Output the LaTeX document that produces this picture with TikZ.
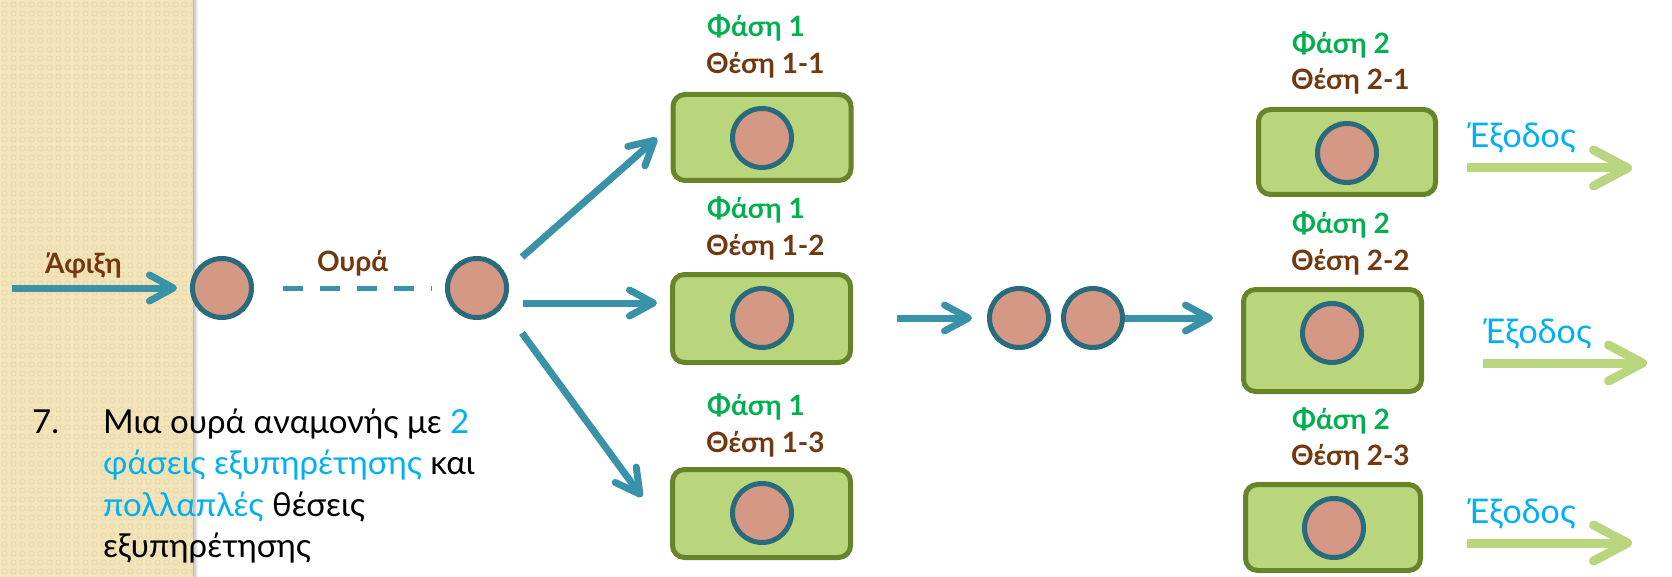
\documentclass[tikz,border=0pt]{standalone}
\usepackage{fontspec}
\setmainfont{Lato}
\usetikzlibrary{arrows.meta}

\definecolor{qarrow}{HTML}{3A92A8}
\definecolor{qring}{HTML}{286B7D}
\definecolor{qdot}{HTML}{D49885}
\definecolor{qboxfill}{HTML}{B9D67D}
\definecolor{qboxline}{HTML}{67842A}
\definecolor{qgreen}{HTML}{00B050}
\definecolor{qbrown}{HTML}{72380F}
\definecolor{qcyan}{HTML}{00B0F0}
\definecolor{qexit}{HTML}{B9D67E}
\definecolor{qbeige}{HTML}{F3E3B8}
\definecolor{qbeigedot}{HTML}{E9D8AA}

\tikzset{
  customer/.style={circle, draw=qring, fill=qdot, line width=5pt,
    minimum size=59pt, inner sep=0pt},
  server/.style={draw=qboxline, fill=qboxfill, line width=5pt,
    rounded corners=12pt, inner sep=0pt},
  flow/.style={draw=qarrow, line width=7pt,
    -{Straight Barb[round, length=24pt, width=26pt]}},
  queueline/.style={draw=qarrow, line width=5pt, dash pattern=on 20pt off 17pt},
  exitflow/.style={draw=qexit, line width=9pt,
    -{Straight Barb[round, length=34pt, width=36pt]}},
  phase/.style={anchor=base west, inner sep=0pt, text=qgreen,
    font=\fontsize{28}{28}\selectfont\bfseries},
  slot/.style={anchor=base west, inner sep=0pt, text=qbrown,
    font=\fontsize{28}{28}\selectfont\bfseries},
  exitlabel/.style={anchor=base west, inner sep=0pt, text=qcyan,
    font=\fontsize{34}{34}\selectfont},
  flowlabel/.style={anchor=base west, inner sep=0pt, text=qbrown,
    font=\fontsize{28}{28}\selectfont\bfseries},
  body/.style={anchor=base west, inner sep=0pt, text=black,
    font=\fontsize{33}{33}\selectfont},
}

\begin{document}
\begin{tikzpicture}[x=1pt, y=-1pt]
\useasboundingbox (0,0) rectangle (1672,577);
\fill[white] (0,0) rectangle (1672,577);

% textured side band
\fill[qbeige] (0,0) rectangle (194,577);
\foreach \i in {0,...,21}
  \foreach \j in {0,...,64}
    \draw[qbeigedot, line width=0.7pt] (4.5+9*\i, 4.5+9*\j) circle (2.6pt);
\shade[left color=black!25, right color=white] (193,0) rectangle (198,577);

% waiting line
\node[customer] (c1) at (222,288) {};
\node[customer] (c2) at (477,288) {};
\coordinate (src) at (12,288);
\draw[flow] (src) -- ([xshift=-13pt]c1.west);
\draw[queueline] ([xshift=29pt]c1.east) -- ([xshift=-13pt]c2.west);
\node[flowlabel] (lin) at (45,273) {Άφιξη};
\node[flowlabel] (lq) at (317,271) {Ουρά};

% phase 1 servers
\node[server, minimum width=178pt, minimum height=86pt] (b11) at (762,137.5) {};
\node[server, minimum width=178pt, minimum height=88pt] (b12) at (761.5,318.5) {};
\node[server, minimum width=178pt, minimum height=88pt] (b13) at (761.5,513.5) {};
\node[customer] (s11) at (762,138) {};
\node[customer] (s12) at (762,318) {};
\node[customer] (s13) at (762,513) {};

\node[phase] (p11) at (707,37) {Φάση 1};
\node[slot]  (t11) at (706,74) {Θέση 1-1};
\node[phase] (p12) at (707,219) {Φάση 1};
\node[slot]  (t12) at (706,255) {Θέση 1-2};
\node[phase] (p13) at (707,415) {Φάση 1};
\node[slot]  (t13) at (706,452) {Θέση 1-3};

\draw[flow] ([shift={(45,-31)}]c2.center) -- ([shift={(-105,0.5)}]b11.center);
\draw[flow] ([shift={(46,15)}]c2.center) -- ([shift={(-104.5,-15.5)}]b12.center);
\draw[flow] ([shift={(45,45)}]c2.center) -- ([shift={(-119.5,-16.5)}]b13.center);

% between the phases
\node[customer] (d1) at (1019,318) {};
\node[customer] (d2) at (1093,318) {};
\draw[flow] ([shift={(44,-0.5)}]b12.east) -- ([xshift=-15pt]d1.west);
\coordinate (d2out) at (1213,318);
\draw[flow] (d2.east) -- (d2out);

% phase 2 servers
\node[server, minimum width=177pt, minimum height=85pt] (b21) at (1347,152) {};
\node[server, minimum width=178pt, minimum height=102pt] (b22) at (1332.5,340.5) {};
\node[server, minimum width=175pt, minimum height=86pt] (b23) at (1333,527.5) {};
\node[customer] (s21) at (1347,153) {};
\node[customer] (s22) at (1332,333) {};
\node[customer] (s23) at (1334,528) {};

\node[phase] (p21) at (1292,54) {Φάση 2};
\node[slot]  (t21) at (1291,90) {Θέση 2-1};
\node[phase] (p22) at (1292,234) {Φάση 2};
\node[slot]  (t22) at (1291,270) {Θέση 2-2};
\node[phase] (p23) at (1292,429) {Φάση 2};
\node[slot]  (t23) at (1291,465) {Θέση 2-3};

% departures
\coordinate (o1) at (1632,168);
\coordinate (o2) at (1647,363);
\coordinate (o3) at (1632,543);
\draw[exitflow] ([shift={(29,16)}]b21.east) -- (o1);
\draw[exitflow] ([shift={(59,22.5)}]b22.east) -- (o2);
\draw[exitflow] ([shift={(44,15.5)}]b23.east) -- (o3);
\node[exitlabel] (e1) at (1467,148) {Έξοδος};
\node[exitlabel] (e2) at (1483,343) {Έξοδος};
\node[exitlabel] (e3) at (1467,523) {Έξοδος};

% caption
\node[body] (num) at (32,433) {7.};
\node[body] (l1) at (103,433) {Μια ουρά αναμονής με \textcolor{qcyan}{2}};
\node[body] (l2) at (103,474.5) {\textcolor{qcyan}{φάσεις εξυπηρέτησης} και};
\node[body] (l3) at (103,516) {\textcolor{qcyan}{πολλαπλές} θέσεις};
\node[body] (l4) at (103,557.5) {εξυπηρέτησης};
\end{tikzpicture}
\end{document}
